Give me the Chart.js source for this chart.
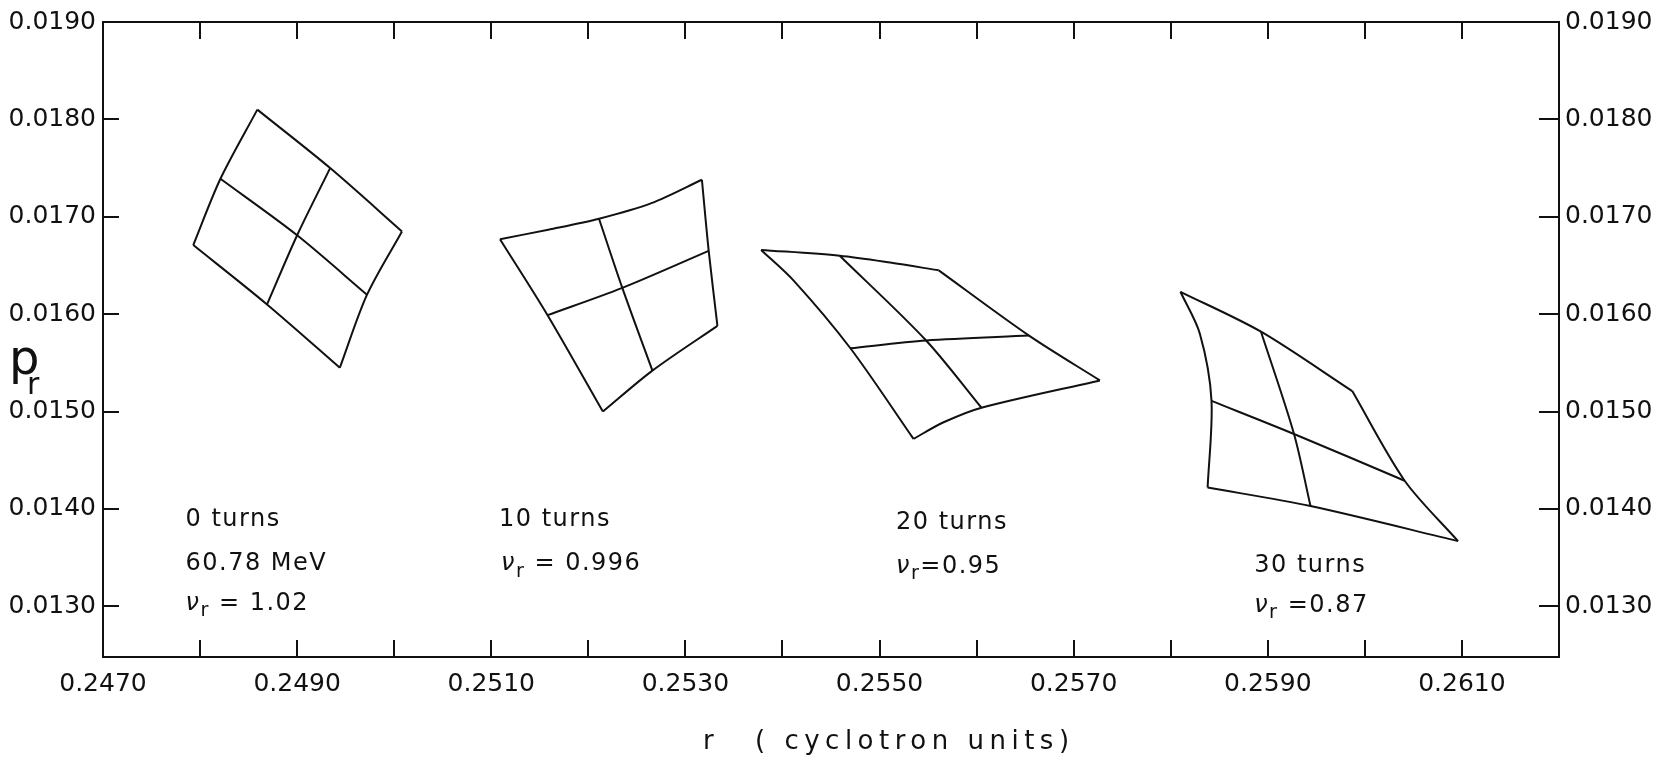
<!DOCTYPE html>
<html>
<head>
<meta charset="utf-8">
<title>Phase space grids, r vs p_r</title>
<script src="https://cdn.jsdelivr.net/npm/chart.js@4.4.1/dist/chart.umd.min.js"></script>
<style>
  html, body { margin: 0; padding: 0; background: #fff; }
  #wrap { width: 1663px; height: 757px; }
</style>
</head>
<body>
<div id="wrap"><canvas id="phaseChart"></canvas></div>
<script>
const INK = '#111111';
const FONT = 'DejaVu Sans';

const R_MIN = 0.2470;
const R_MAX = 0.2620;
const P_MIN = 0.01248;
const P_MAX = 0.0190;

// tick marks every 0.001 in r, labels every 0.002
const xTickValues = [0.248, 0.249, 0.250, 0.251, 0.252, 0.253, 0.254, 0.255, 0.256, 0.257, 0.258, 0.259, 0.260, 0.261];
const xTickLabels = ['0.2470', '0.2490', '0.2510', '0.2530', '0.2550', '0.2570', '0.2590', '0.2610'];
const yTickValues = [0.013, 0.014, 0.015, 0.016, 0.017, 0.018];
const yTickLabels = ['0.0130', '0.0140', '0.0150', '0.0160', '0.0170', '0.0180', '0.0190'];

// each mesh: 3 lines one way, 3 lines the other way, as [r, p_r] points
const mesh0 = [
  [[0.24859, 0.01810], [0.24934, 0.01750], [0.25008, 0.01685]],
  [[0.24821, 0.01739], [0.24900, 0.01681], [0.24972, 0.01620]],
  [[0.24793, 0.01671], [0.24869, 0.01610], [0.24944, 0.01545]],
  [[0.24859, 0.01810], [0.24821, 0.01739], [0.24793, 0.01671]],
  [[0.24934, 0.01750], [0.24900, 0.01681], [0.24869, 0.01610]],
  [[0.25008, 0.01685], [0.24972, 0.01620], [0.24944, 0.01545]],
];

const mesh10 = [
  [[0.25109, 0.01677], [0.25160, 0.01687], [0.25211, 0.01698], [0.25265, 0.01714], [0.25317, 0.01738]],
  [[0.25158, 0.01599], [0.25235, 0.01627], [0.25324, 0.01665]],
  [[0.25215, 0.01500], [0.25266, 0.01542], [0.25333, 0.01588]],
  [[0.25109, 0.01677], [0.25158, 0.01599], [0.25215, 0.01500]],
  [[0.25211, 0.01698], [0.25235, 0.01627], [0.25266, 0.01542]],
  [[0.25317, 0.01738], [0.25324, 0.01665], [0.25333, 0.01588]],
];

const mesh20 = [
  [[0.25378, 0.01666], [0.25459, 0.01660], [0.25511, 0.01653], [0.25561, 0.01645]],
  [[0.25470, 0.01565], [0.25548, 0.01573], [0.25654, 0.01578]],
  [[0.25535, 0.01472], [0.25566, 0.01489], [0.25605, 0.01504], [0.25727, 0.01532]],
  [[0.25378, 0.01666], [0.25412, 0.01634], [0.25470, 0.01565], [0.25535, 0.01472]],
  [[0.25459, 0.01660], [0.25548, 0.01573], [0.25605, 0.01504]],
  [[0.25561, 0.01645], [0.25654, 0.01578], [0.25727, 0.01532]],
];

const mesh30 = [
  [[0.25810, 0.01623], [0.25893, 0.01582], [0.25987, 0.01521]],
  [[0.25842, 0.01511], [0.25927, 0.01477], [0.26041, 0.01429]],
  [[0.25838, 0.01422], [0.25944, 0.01403], [0.26096, 0.01367]],
  [[0.25810, 0.01623], [0.25830, 0.01580], [0.25842, 0.01511], [0.25838, 0.01422]],
  [[0.25893, 0.01582], [0.25927, 0.01477], [0.25944, 0.01403]],
  [[0.25987, 0.01521], [0.26041, 0.01429], [0.26096, 0.01367]],
];

// text notes, anchored at [r, p_r] (left edge, middle of the line)
const notes = [
  { at: [0.24785, 0.01389], runs: [['0 turns']] },
  { at: [0.24785, 0.013434], runs: [['60.78 MeV']] },
  { at: [0.24785, 0.01303], runs: [['ν', 'it'], ['r', 'sub'], [' = 1.02']] },
  { at: [0.25108, 0.01389], runs: [['10 turns']] },
  { at: [0.25110, 0.013434], runs: [['ν', 'it'], ['r', 'sub'], [' = 0.996']] },
  { at: [0.25517, 0.01386], runs: [['20 turns']] },
  { at: [0.25517, 0.01341], runs: [['ν', 'it'], ['r', 'sub'], ['=0.95']] },
  { at: [0.25886, 0.01342], runs: [['30 turns']] },
  { at: [0.25886, 0.01301], runs: [['ν', 'it'], ['r', 'sub'], [' =0.87']] },
];

const toPoints = line => line.map(([x, y]) => ({ x, y }));

const meshDataset = line => ({
  data: toPoints(line),
  showLine: true,
  borderColor: INK,
  borderWidth: 2,
  pointRadius: 0,
  tension: 0.3,
  fill: false,
});

const datasets = [mesh0, mesh10, mesh20, mesh30].flatMap(mesh => mesh.map(meshDataset));

const drawRuns = (ctx, x, y, runs, size) => {
  let cx = x;
  runs.forEach(([text, style]) => {
    const fs = style === 'sub' ? size * 0.8 : size;
    ctx.font = `${style === 'it' ? 'italic ' : ''}${fs}px "${FONT}"`;
    ctx.fillText(text, cx, style === 'sub' ? y + size * 0.32 : y);
    cx += ctx.measureText(text).width;
  });
};

// ticks point into the frame on all four sides, like the drawn original
const insideTicks = {
  id: 'insideTicks',
  afterDraw(chart) {
    const { ctx, chartArea: a, scales } = chart;
    ctx.save();
    ctx.strokeStyle = INK;
    ctx.lineWidth = 2;
    ctx.beginPath();
    xTickValues.forEach(v => {
      const px = Math.round(scales.x.getPixelForValue(v));
      ctx.moveTo(px, a.bottom);
      ctx.lineTo(px, a.bottom - 17);
      ctx.moveTo(px, a.top);
      ctx.lineTo(px, a.top + 17);
    });
    yTickValues.forEach(v => {
      const py = Math.round(scales.y.getPixelForValue(v));
      ctx.moveTo(a.left, py);
      ctx.lineTo(a.left + 16, py);
      ctx.moveTo(a.right, py);
      ctx.lineTo(a.right - 20, py);
    });
    ctx.stroke();
    ctx.restore();
  },
};

const textNotes = {
  id: 'textNotes',
  afterDraw(chart) {
    const { ctx, chartArea: a, scales } = chart;
    ctx.save();
    ctx.fillStyle = INK;
    ctx.textBaseline = 'middle';
    ctx.textAlign = 'left';
    ctx.letterSpacing = '1.5px';
    notes.forEach(n => {
      drawRuns(ctx, scales.x.getPixelForValue(n.at[0]), scales.y.getPixelForValue(n.at[1]), n.runs, 24);
    });

    // x axis title, widely spaced like the stencil lettering
    ctx.letterSpacing = '5.5px';
    const cx = (a.left + a.right) / 2;
    drawRuns(ctx, cx - 128, a.bottom + 85, [['r']], 26);
    drawRuns(ctx, cx - 76, a.bottom + 85, [['( cyclotron units)']], 26);

    // p_r on the left, between the 0.0160 and 0.0150 labels
    ctx.letterSpacing = '0px';
    ctx.textBaseline = 'alphabetic';
    ctx.font = `48px "${FONT}"`;
    ctx.fillText('p', 9, a.top + 352);
    ctx.font = `30px "${FONT}"`;
    ctx.fillText('r', 27, a.top + 372);
    ctx.restore();
  },
};

const tickFont = { family: FONT, size: 25 };

const xLabelFor = value => {
  const hit = xTickLabels.find(l => Math.abs(parseFloat(l) - value) < 1e-7);
  return hit || '';
};

const yLabelFor = value => {
  const hit = yTickLabels.find(l => Math.abs(parseFloat(l) - value) < 1e-8);
  return hit || '';
};

const xTicksAll = () => [...new Set([...xTickLabels.map(parseFloat), ...xTickValues])].sort((a, b) => a - b);

const frameBorder = { display: true, color: INK, width: 2 };
const noGrid = { display: false, drawTicks: false };

new Chart(document.getElementById('phaseChart').getContext('2d'), {
  type: 'scatter',
  data: { datasets },
  options: {
    responsive: true,
    maintainAspectRatio: false,
    animation: false,
    devicePixelRatio: 1,
    layout: { padding: 0 },
    plugins: { legend: { display: false }, tooltip: { enabled: false } },
    scales: {
      x: {
        type: 'linear',
        position: 'bottom',
        min: R_MIN,
        max: R_MAX,
        grid: noGrid,
        border: frameBorder,
        afterBuildTicks: axis => { axis.ticks = xTicksAll().map(value => ({ value })); },
        afterFit: axis => { axis.height = 100; },
        ticks: {
          autoSkip: false,
          maxRotation: 0,
          padding: 12,
          color: INK,
          font: tickFont,
          callback: value => xLabelFor(value),
        },
      },
      xTop: {
        type: 'linear',
        position: 'top',
        min: R_MIN,
        max: R_MAX,
        grid: noGrid,
        border: frameBorder,
        ticks: { display: false },
        afterFit: axis => { axis.height = 15; },
      },
      y: {
        type: 'linear',
        position: 'left',
        min: P_MIN,
        max: P_MAX,
        grid: noGrid,
        border: frameBorder,
        afterBuildTicks: axis => { axis.ticks = yTickLabels.map(l => ({ value: parseFloat(l) })); },
        afterFit: axis => { axis.width = 103; },
        ticks: { autoSkip: false, padding: 7, color: INK, font: tickFont, callback: value => yLabelFor(value) },
      },
      yRight: {
        type: 'linear',
        position: 'right',
        min: P_MIN,
        max: P_MAX,
        grid: noGrid,
        border: frameBorder,
        afterBuildTicks: axis => { axis.ticks = yTickLabels.map(l => ({ value: parseFloat(l) })); },
        afterFit: axis => { axis.width = 104; },
        ticks: { autoSkip: false, padding: 6, color: INK, font: tickFont, callback: value => yLabelFor(value) },
      },
    },
  },
  plugins: [insideTicks, textNotes],
});
</script>
</body>
</html>
